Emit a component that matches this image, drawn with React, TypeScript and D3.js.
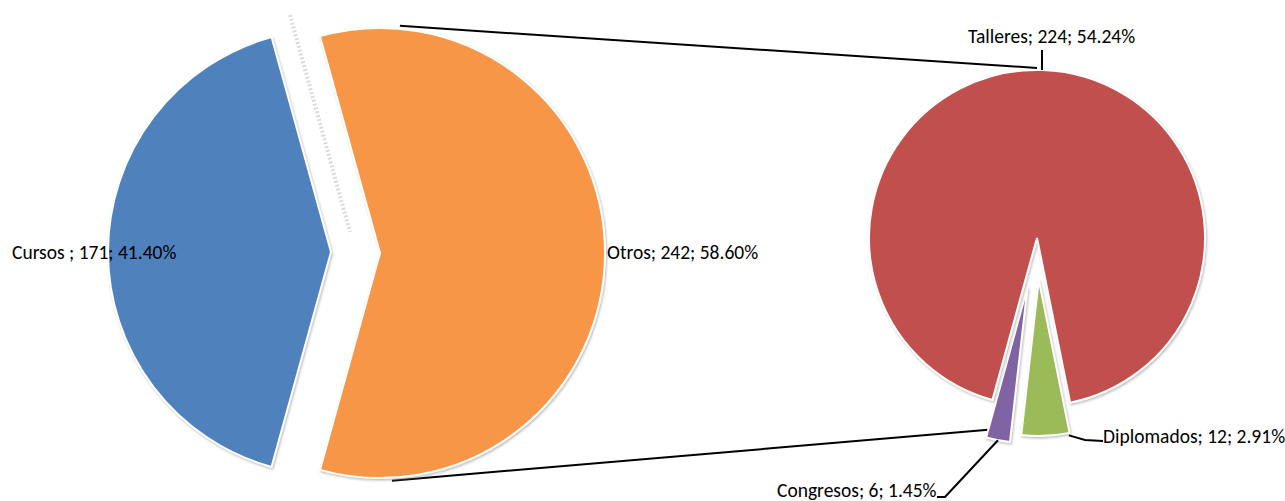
import React from "react";
import * as d3 from "d3";

const mainCategories = ["Otros", "Cursos "];
const mainValues = [242, 171];
const subCategories = ["Diplomados", "Congresos", "Talleres"];
const subValues = [12, 6, 224];
const mainColors = ["#F79646", "#4F81BD"];
const subColors = ["#9BBB59", "#8064A2", "#C0504D"];

const W = 1285;
const H = 501;
const deg = Math.PI / 180;

export default function App() {
  const total = d3.sum(mainValues);
  const otrosSpan = (mainValues[0] / total) * 2 * Math.PI;
  const mainPie = d3
    .pie<number>()
    .sort(null)
    .value((d) => d)
    .startAngle(Math.PI / 2 - otrosSpan / 2)
    .endAngle(Math.PI / 2 - otrosSpan / 2 + 2 * Math.PI)(mainValues);

  const mainCenters = [
    { x: 380, y: 253, r: 225 },
    { x: 331, y: 252, r: 223 },
  ];

  const subTotal = d3.sum(subValues);
  const greenSpan = (subValues[0] / subTotal) * 2 * Math.PI;
  const subStart = Math.PI + 2 * deg - greenSpan * 0.75;
  const subPie = d3
    .pie<number>()
    .sort(null)
    .value((d) => d)
    .startAngle(subStart)
    .endAngle(subStart + 2 * Math.PI)(subValues);
  const c2 = { x: 1037, y: 238, r: 168 };
  const explode = [42, 50, 0];
  const subR = [156, 156, 168];

  const subCenters = subPie.map((a, i) => {
    const m = (a.startAngle + a.endAngle) / 2;
    return { x: c2.x + explode[i] * Math.sin(m), y: c2.y - explode[i] * Math.cos(m) };
  });

  const pt = (cx: number, cy: number, r: number, a: number) => [cx + r * Math.sin(a), cy - r * Math.cos(a)];

  const pct = (v: number) => ((v / total) * 100).toFixed(2) + "%";
  const font = "Carlito, Calibri, Lato, sans-serif";

  const topStart = pt(mainCenters[0].x, mainCenters[0].y, mainCenters[0].r + 3, 5 * deg);
  const topEnd = pt(c2.x, c2.y, c2.r + 2, 0);
  const botStart = pt(mainCenters[0].x, mainCenters[0].y, mainCenters[0].r + 3, Math.PI - 3 * deg);
  const purple = subPie[1];
  const botEnd = pt(subCenters[1].x, subCenters[1].y, subR[1] - 8, purple.endAngle);

  const greenCorner = pt(subCenters[0].x, subCenters[0].y, subR[0], subPie[0].startAngle + 1 * deg);
  const purpleMid = pt(subCenters[1].x, subCenters[1].y, subR[1], (purple.startAngle + purple.endAngle) / 2);

  return (
    <div style={{ position: "fixed", left: 0, top: 0 }}>
      <svg width={W} height={H} style={{ display: "block", background: "#fff" }}>
        <defs>
          <filter id="sh" x="-10%" y="-10%" width="120%" height="120%">
            <feDropShadow dx="1" dy="1.5" stdDeviation="1.2" floodColor="#888" floodOpacity="0.55" />
          </filter>
        </defs>
        <line x1={290} y1={15} x2={350} y2={232} stroke="#dcdcdc" strokeWidth={4} strokeDasharray="2 2" />
        <line x1={topStart[0]} y1={topStart[1]} x2={topEnd[0]} y2={topEnd[1]} stroke="#000" strokeWidth={2} />
        <line x1={botStart[0]} y1={botStart[1]} x2={botEnd[0]} y2={botEnd[1]} stroke="#000" strokeWidth={2} />

        {mainPie.map((a, i) => {
          const c = mainCenters[i];
          const arc = d3.arc<any>().innerRadius(0).outerRadius(c.r);
          return (
            <path
              key={mainCategories[i]}
              d={arc(a) || ""}
              transform={`translate(${c.x},${c.y})`}
              fill={mainColors[i]}
              stroke="#fff"
              strokeWidth={2}
              filter="url(#sh)"
            />
          );
        })}
        {subPie.map((a, i) => {
          const c = subCenters[i];
          const arc = d3.arc<any>().innerRadius(0).outerRadius(subR[i]);
          return (
            <path
              key={subCategories[i]}
              d={arc(a) || ""}
              transform={`translate(${c.x},${c.y})`}
              fill={subColors[i]}
              stroke="#fff"
              strokeWidth={2}
              filter="url(#sh)"
            />
          );
        })}

        <line x1={c2.x + 5} y1={c2.y - c2.r} x2={c2.x + 5} y2={50} stroke="#000" strokeWidth={2} />
        <polyline
          points={`${greenCorner[0] + 2},${greenCorner[1] + 2} ${1085},${440} ${1103},${441}`}
          fill="none"
          stroke="#000"
          strokeWidth={2}
        />
        <polyline
          points={`${purpleMid[0]},${purpleMid[1]} 945,497 937,497`}
          fill="none"
          stroke="#000"
          strokeWidth={2}
        />

        <g fontFamily={font} fontSize={19.5} fill="#000">
          <text x={12} y={259}>{`${mainCategories[1]}; ${mainValues[1]}; ${pct(mainValues[1])}`}</text>
          <text x={607} y={259}>{`${mainCategories[0]}; ${mainValues[0]}; ${pct(mainValues[0])}`}</text>
          <text x={968} y={43}>{`${subCategories[2]}; ${subValues[2]}; ${pct(subValues[2])}`}</text>
          <text x={1103} y={443}>{`${subCategories[0]}; ${subValues[0]}; ${pct(subValues[0])}`}</text>
          <text x={777} y={497}>{`${subCategories[1]}; ${subValues[1]}; ${pct(subValues[1])}`}</text>
        </g>
      </svg>
    </div>
  );
}
